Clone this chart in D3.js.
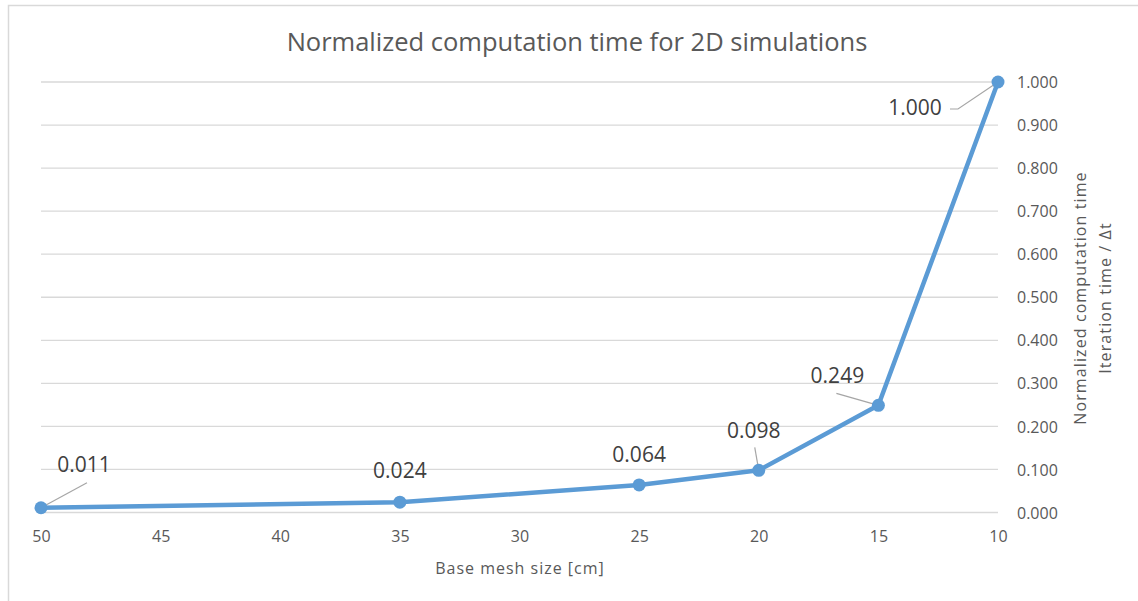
<!DOCTYPE html>
<html><head><meta charset="utf-8">
<script src="https://cdn.jsdelivr.net/npm/d3@7"></script>
<style>
body{margin:0;background:#fff;}
svg{display:block;font-family:"Open Sans",sans-serif;}
</style>
</head><body>
<svg id="chart" width="1138" height="601"></svg>
<script>
// Base mesh size [cm] and normalized computation time
const meshSizes = [50, 35, 25, 20, 15, 10];
const normTime = [0.011, 0.024, 0.064, 0.098, 0.249, 1.000];
const xTickValues = [50, 45, 40, 35, 30, 25, 20, 15, 10];
const yTickValues = [0, 0.1, 0.2, 0.3, 0.4, 0.5, 0.6, 0.7, 0.8, 0.9, 1.0];

// Where each value label sits relative to its marker, plus its leader line
const labelLayout = [
  {dx: 43, dy: -36, leader: [[3, 11]]},
  {dx: 0, dy: -24, leader: null},
  {dx: 0, dy: -23, leader: null},
  {dx: -5, dy: -32, leader: [[1, 9]]},
  {dx: -41, dy: -22, leader: [[-1, 10]]},
  {dx: -83, dy: 33, leader: [[35, -6], [43, -6]]}
];

const svg = d3.select("#chart");
const lineColor = "#5B9BD5";
const gridColor = "#d9d9d9";
const textColor = "#595959";

// chart frame
svg.append("rect")
  .attr("x", 8.5).attr("y", 5.5)
  .attr("width", 1300).attr("height", 800)
  .attr("fill", "none").attr("stroke", gridColor).attr("stroke-width", 1.5);

const x = d3.scaleLinear().domain([50, 10]).range([41, 998]);
const y = d3.scaleLinear().domain([0, 1]).range([512.5, 82]);

// horizontal gridlines
svg.append("g").selectAll("line").data(yTickValues).join("line")
  .attr("x1", x(50)).attr("x2", x(10))
  .attr("y1", d => y(d)).attr("y2", d => y(d))
  .attr("stroke", gridColor).attr("stroke-width", 1.3);

// title
svg.append("text")
  .attr("x", 577).attr("y", 51)
  .attr("text-anchor", "middle")
  .attr("font-size", 25.5).attr("fill", textColor)
  .text("Normalized computation time for 2D simulations");

// x axis (bottom)
const xAxis = d3.axisBottom(x).tickValues(xTickValues).tickSize(0).tickPadding(0)
  .tickFormat(d3.format("d"));
const gx = svg.append("g").attr("transform", `translate(0,${y(0)})`).call(xAxis);
gx.select(".domain").remove();
gx.selectAll("text")
  .attr("font-family", "Open Sans, sans-serif")
  .attr("font-size", 16).attr("fill", textColor)
  .attr("dy", null).attr("y", 29.5);

// y axis (right)
const yAxis = d3.axisRight(y).tickValues(yTickValues).tickSize(0).tickPadding(0)
  .tickFormat(d3.format(".3f"));
const gy = svg.append("g").attr("transform", `translate(1017,0)`).call(yAxis);
gy.select(".domain").remove();
gy.selectAll("text")
  .attr("font-family", "Open Sans, sans-serif")
  .attr("font-size", 16).attr("fill", textColor)
  .attr("x", 0).attr("dy", "0.35em");

// axis titles
svg.append("text")
  .attr("x", 520).attr("y", 574)
  .attr("text-anchor", "middle")
  .attr("font-size", 16).attr("letter-spacing", 1).attr("fill", textColor)
  .text("Base mesh size [cm]");

const yTitle = svg.append("text")
  .attr("transform", "translate(1086,298) rotate(-90)")
  .attr("text-anchor", "middle")
  .attr("font-size", 16).attr("letter-spacing", 1.1).attr("fill", textColor);
yTitle.append("tspan").attr("x", 0).attr("dy", 0).text("Normalized computation time");
yTitle.append("tspan").attr("x", 0).attr("dy", 25).text("Iteration time / \u0394t");

// data series
const points = meshSizes.map((m, i) => ({m, v: normTime[i], layout: labelLayout[i]}));

svg.append("path")
  .datum(points)
  .attr("fill", "none")
  .attr("stroke", lineColor)
  .attr("stroke-width", 4.5)
  .attr("stroke-linejoin", "round")
  .attr("d", d3.line().x(d => x(d.m)).y(d => y(d.v)));

// leader lines
svg.append("g").selectAll("polyline")
  .data(points.filter(d => d.layout.leader))
  .join("polyline")
  .attr("fill", "none")
  .attr("stroke", "#a6a6a6")
  .attr("stroke-width", 1.2)
  .attr("points", d => {
    const lx = x(d.m) + d.layout.dx, ly = y(d.v) + d.layout.dy;
    const pts = d.layout.leader.map(p => [lx + p[0], ly + p[1]]);
    pts.push([x(d.m), y(d.v)]);
    return pts.map(p => p.join(",")).join(" ");
  });

// markers
svg.append("g").selectAll("circle").data(points).join("circle")
  .attr("cx", d => x(d.m)).attr("cy", d => y(d.v))
  .attr("r", 6.5).attr("fill", lineColor);

// value labels
svg.append("g").selectAll("text").data(points).join("text")
  .attr("x", d => x(d.m) + d.layout.dx)
  .attr("y", d => y(d.v) + d.layout.dy)
  .attr("text-anchor", "middle")
  .attr("font-size", 21).attr("fill", "#404040")
  .text(d => d3.format(".3f")(d.v));
</script>
</body></html>
